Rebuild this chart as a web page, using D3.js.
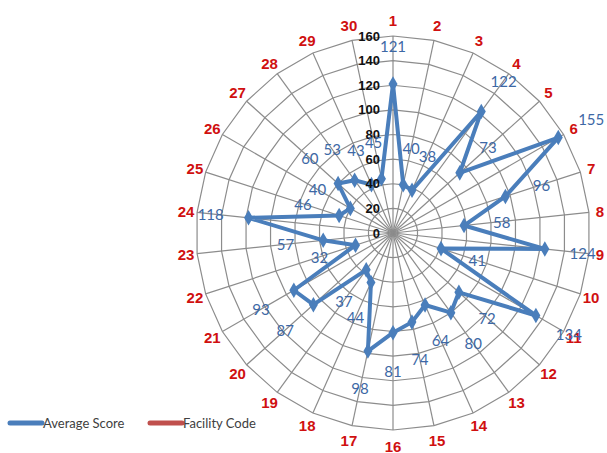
<!DOCTYPE html>
<html>
<head>
<meta charset="utf-8">
<script src="https://cdn.jsdelivr.net/npm/d3@7"></script>
<style>
  body { margin: 0; background: #fff; }
</style>
</head>
<body>
<div id="vis"></div>
<script>
// facility codes around the radar, and the average score for each
var categories = ["1","2","3","4","5","6","7","8","9","10","11","12","13","14","15",
                  "16","17","18","19","20","21","22","23","24","25","26","27","28","29","30"];
var avgScore = [121, 40, 38, 122, 73, 155, 96, 58, 124, 41, 134, 72, 80, 64, 74,
                81, 98, 44, 37, 87, 93, 32, 57, 118, 46, 40, 60, 53, 43, 45];
var radialTicks = [0, 20, 40, 60, 80, 100, 120, 140, 160];
var seriesNames = ["Average Score", "Facility Code"];

var width = 607, height = 453;
var cx = 393, cy = 233, R = 197;

var r = d3.scaleLinear().domain([0, 160]).range([0, R]);
var ang = d3.scaleLinear().domain([0, categories.length]).range([0, 2 * Math.PI]);

function px(a, rad) { return Math.sin(a) * rad; }
function py(a, rad) { return -Math.cos(a) * rad; }

var svg = d3.select('#vis').append('svg')
    .attr("width", width)
    .attr("height", height);

var vis = svg.append('g')
    .attr("transform", "translate(" + cx + "," + cy + ")");

// rings (polygons through the spokes)
var ring = d3.lineRadial()
    .angle(function(d, i) { return ang(i); })
    .curve(d3.curveLinearClosed);

vis.selectAll(".ring")
    .data(radialTicks.slice(1))
    .enter().append("path")
    .attr("class", "ring")
    .attr("d", function(t) {
        return ring.radius(r(t))(categories);
    })
    .attr("fill", "none")
    .attr("stroke", "#8c8c8c")
    .attr("stroke-width", 1.2);

// spokes
vis.selectAll(".spoke")
    .data(categories)
    .enter().append("line")
    .attr("class", "spoke")
    .attr("x1", 0).attr("y1", 0)
    .attr("x2", function(d, i) { return px(ang(i), R); })
    .attr("y2", function(d, i) { return py(ang(i), R); })
    .attr("stroke", "#8c8c8c")
    .attr("stroke-width", 1.2);

// category labels
function catR(a) { return R + 16 - 5 * Math.abs(Math.sin(a)); }
vis.selectAll(".cat")
    .data(categories)
    .enter().append("text")
    .attr("class", "cat")
    .attr("x", function(d, i) { return px(ang(i), catR(ang(i))); })
    .attr("y", function(d, i) { return py(ang(i), catR(ang(i))); })
    .attr("text-anchor", "middle")
    .attr("dominant-baseline", "central")
    .style("font-family", "Liberation Sans, Arial, sans-serif")
    .style("font-weight", "bold")
    .style("font-size", "15px")
    .attr("fill", "#d01010")
    .text(function(d) { return d; });

// the score line
var line = d3.lineRadial()
    .angle(function(d, i) { return ang(i); })
    .radius(function(d) { return r(d); })
    .curve(d3.curveLinearClosed);

vis.append("path")
    .datum(avgScore)
    .attr("d", line)
    .attr("fill", "none")
    .attr("stroke", "#4a7ebb")
    .attr("stroke-width", 4)
    .attr("stroke-linejoin", "round");

vis.selectAll(".mark")
    .data(avgScore)
    .enter().append("path")
    .attr("class", "mark")
    .attr("d", d3.symbol().type(d3.symbolDiamond).size(70))
    .attr("transform", function(d, i) {
        return "translate(" + px(ang(i), r(d)) + "," + py(ang(i), r(d)) + ")";
    })
    .attr("fill", "#4a7ebb");

// radial value axis labels
vis.selectAll(".tick")
    .data(radialTicks)
    .enter().append("text")
    .attr("class", "tick")
    .attr("x", -13)
    .attr("y", function(d) { return -r(d); })
    .attr("text-anchor", "end")
    .attr("dominant-baseline", "central")
    .style("font-family", "Liberation Sans, Arial, sans-serif")
    .style("font-weight", "bold")
    .style("font-size", "13px")
    .attr("fill", "#111")
    .text(function(d) { return d; });

// data labels, pushed out along each spoke
vis.selectAll(".val")
    .data(avgScore)
    .enter().append("text")
    .attr("class", "val")
    .attr("x", function(d, i) { return px(ang(i), r(d) + 38); })
    .attr("y", function(d, i) { return py(ang(i), r(d) + 38); })
    .attr("text-anchor", "middle")
    .attr("dominant-baseline", "central")
    .style("font-family", "Lato, 'Open Sans', sans-serif")
    .style("font-size", "15px")
    .attr("fill", "#3d68a5")
    .text(function(d) { return d; });

// legend
var legendColors = ["#4a7ebb", "#c0504d"];
var leg = svg.append("g").attr("transform", "translate(0,423)");
var items = leg.selectAll(".leg")
    .data(seriesNames)
    .enter().append("g")
    .attr("class", "leg")
    .attr("transform", function(d, i) { return "translate(" + (10 + i * 140) + ",0)"; });
items.append("line")
    .attr("x1", 0).attr("x2", 32)
    .attr("y1", 0).attr("y2", 0)
    .attr("stroke", function(d, i) { return legendColors[i]; })
    .attr("stroke-width", 5)
    .attr("stroke-linecap", "round");
items.append("text")
    .attr("x", 33)
    .attr("y", 0)
    .attr("dominant-baseline", "central")
    .style("font-family", "Lato, 'Open Sans', sans-serif")
    .style("font-size", "13px")
    .attr("fill", "#404040")
    .text(function(d) { return d; });
</script>
</body>
</html>
